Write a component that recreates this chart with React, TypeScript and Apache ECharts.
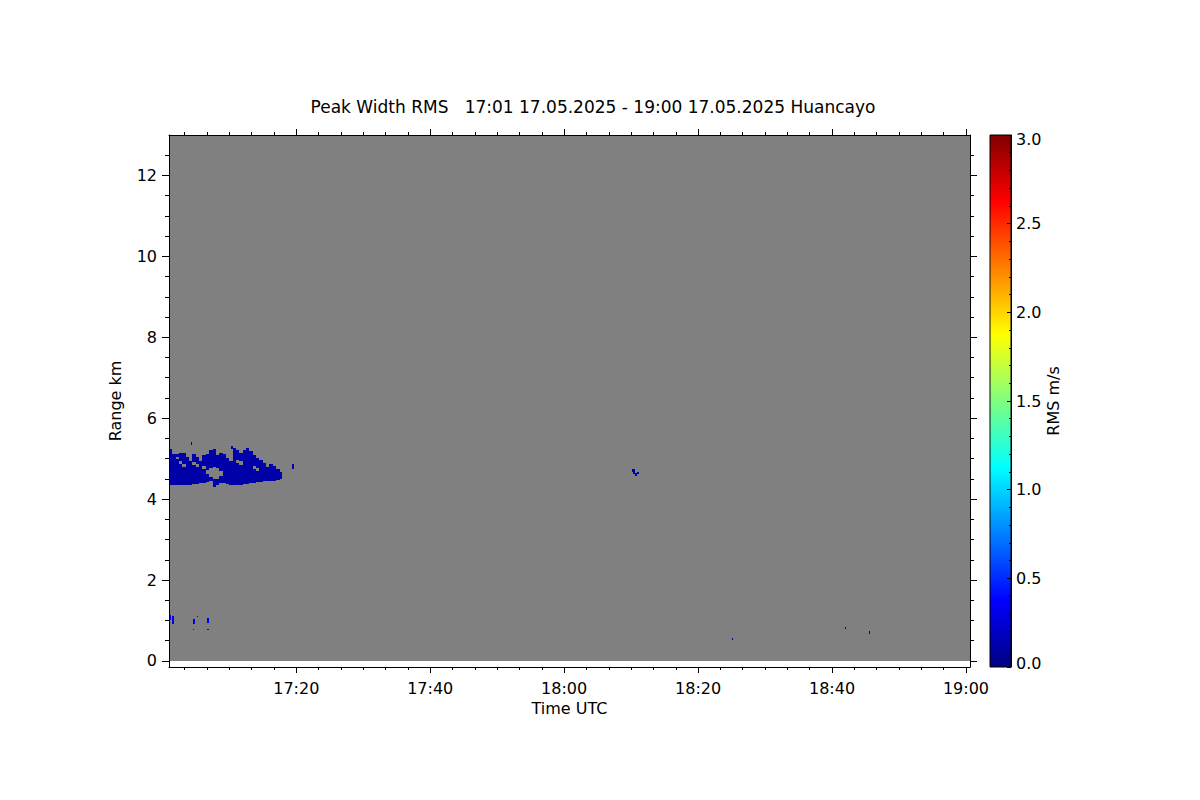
import React, { useEffect, useRef } from 'react';
import * as echarts from 'echarts';

const FONT = 'DejaVu Sans';

const titleText = 'Peak Width RMS   17:01 17.05.2025 - 19:00 17.05.2025 Huancayo';
const xAxisName = 'Time UTC';
const yAxisName = 'Range km';
const colorbarName = 'RMS m/s';

// time in minutes after 17:00 UTC
const scanStart = 1;
const scanEnd = 120.6;
const rangeBottom = 0;
const rangeTop = 13;
const rangeAxisMin = -0.15;

const timeTickValues = [20, 40, 60, 80, 100, 120];
const timeTickLabels = ['17:20', '17:40', '18:00', '18:20', '18:40', '19:00'];
const timeMinorTicks = [
  3.333, 6.667, 10, 13.333, 16.667,
  23.333, 26.667, 30, 33.333, 36.667,
  43.333, 46.667, 50, 53.333, 56.667,
  63.333, 66.667, 70, 73.333, 76.667,
  83.333, 86.667, 90, 93.333, 96.667,
  103.333, 106.667, 110, 113.333, 116.667,
];
const rangeTickValues = [0, 2, 4, 6, 8, 10, 12];
const rangeTickLabels = ['0', '2', '4', '6', '8', '10', '12'];
const rangeMinorTicks = [0.5, 1, 1.5, 2.5, 3, 3.5, 4.5, 5, 5.5, 6.5, 7, 7.5, 8.5, 9, 9.5, 10.5, 11, 11.5, 12.5];

const rmsMin = 0;
const rmsMax = 3;
const rmsTickValues = [0, 0.5, 1, 1.5, 2, 2.5, 3];
const rmsTickLabels = ['0.0', '0.5', '1.0', '1.5', '2.0', '2.5', '3.0'];
const jetColors = ['#000080', '#0000ff', '#0080ff', '#00ffff', '#80ff80', '#ffff00', '#ff8000', '#ff0000', '#800000'];

// cells: [timeStart, timeEnd, rangeLow km, rangeHigh km, RMS m/s]
const upperLayerCells: number[][] = [
  [1.0, 1.5, 4.35, 5.25, 0.12],
  [1.5, 2.0, 4.35, 5.12, 0.12],
  [2.0, 2.5, 4.35, 4.98, 0.12], [2.0, 2.5, 5.05, 5.12, 0.12],
  [2.5, 3.0, 4.36, 4.88, 0.12], [2.5, 3.0, 4.95, 5.15, 0.12],
  [3.0, 3.5, 4.36, 4.80, 0.12], [3.0, 3.5, 4.88, 5.15, 0.12],
  [3.5, 4.0, 4.36, 5.05, 0.12],
  [4.0, 4.5, 4.36, 4.95, 0.12], [4.3, 4.5, 5.33, 5.40, 0.12],
  [4.5, 5.0, 4.38, 4.85, 0.12], [4.5, 5.0, 4.92, 5.12, 0.12],
  [5.0, 5.5, 4.38, 4.80, 0.12], [5.0, 5.5, 4.88, 5.05, 0.12],
  [5.5, 6.0, 4.40, 4.95, 0.12],
  [6.0, 6.5, 4.40, 4.75, 0.12], [6.0, 6.5, 4.82, 5.08, 0.12],
  [6.5, 7.0, 4.42, 4.62, 0.12], [6.5, 7.0, 4.72, 5.12, 0.12],
  [7.0, 7.5, 4.45, 4.55, 0.12], [7.0, 7.5, 4.78, 5.22, 0.12],
  [7.5, 8.0, 4.30, 4.50, 0.12], [7.5, 8.0, 4.80, 5.25, 0.12],
  [8.0, 8.5, 4.36, 4.50, 0.12], [8.0, 8.5, 4.78, 5.10, 0.12],
  [8.5, 9.0, 4.40, 4.58, 0.12], [8.5, 9.0, 4.70, 5.15, 0.12],
  [9.0, 9.5, 4.40, 5.12, 0.12],
  [9.5, 10.0, 4.38, 5.02, 0.12],
  [10.0, 10.5, 4.36, 4.95, 0.12], [10.3, 10.5, 5.25, 5.32, 0.12],
  [10.5, 11.0, 4.36, 5.27, 0.12],
  [11.0, 11.5, 4.36, 4.90, 0.12], [11.0, 11.5, 4.97, 5.22, 0.12],
  [11.5, 12.0, 4.36, 4.85, 0.12], [11.5, 12.0, 4.93, 5.15, 0.12],
  [12.0, 12.5, 4.38, 5.22, 0.12],
  [12.5, 13.0, 4.38, 5.27, 0.12],
  [13.0, 13.5, 4.40, 5.20, 0.12],
  [13.5, 14.0, 4.40, 4.75, 0.12], [13.5, 14.0, 4.82, 5.10, 0.12],
  [14.0, 14.5, 4.42, 4.70, 0.12], [14.0, 14.5, 4.78, 5.02, 0.12],
  [14.5, 15.0, 4.42, 4.97, 0.12],
  [15.0, 15.5, 4.44, 4.90, 0.12],
  [15.5, 16.0, 4.44, 4.80, 0.12],
  [16.0, 16.5, 4.45, 4.88, 0.12],
  [16.5, 17.0, 4.45, 4.82, 0.12],
  [17.0, 17.5, 4.47, 4.75, 0.12],
  [17.5, 17.8, 4.50, 4.68, 0.12],
  [19.3, 19.6, 4.75, 4.87, 0.12],
];

const lowCloudCells: number[][] = [
  [1.0, 1.3, 1.02, 1.14, 0.3],
  [1.5, 1.8, 0.92, 1.10, 0.3],
  [4.6, 4.85, 0.92, 1.04, 0.3],
  [4.55, 4.75, 0.76, 0.79, 0.3],
  [5.2, 5.4, 1.08, 1.12, 0.3],
  [6.7, 6.95, 0.94, 1.06, 0.3],
  [6.7, 6.9, 0.76, 0.79, 0.3],
];

const midEchoCells: number[][] = [
  [70.1, 70.35, 4.68, 4.74, 0.12],
  [70.35, 70.6, 4.62, 4.74, 0.12],
  [70.6, 70.9, 4.58, 4.65, 0.12],
  [70.9, 71.25, 4.62, 4.68, 0.12],
];

const scatteredCells: number[][] = [
  [85.0, 85.15, 0.52, 0.56, 0.1],
  [101.9, 102.05, 0.80, 0.84, 0.1],
  [105.5, 105.65, 0.66, 0.75, 0.1],
];

const backgroundCells: number[][] = [[scanStart, scanEnd, rangeBottom, rangeTop]];

const allCells = [...upperLayerCells, ...lowCloudCells, ...midEchoCells, ...scatteredCells];

const textBase = { color: '#000', fontFamily: FONT, fontSize: 16 };

function rectFromApi(api: any, fill: string) {
  const a = api.coord([api.value(0), api.value(3)]);
  const b = api.coord([api.value(1), api.value(2)]);
  const x0 = Math.round(a[0]);
  const y0 = Math.round(a[1]);
  const x1 = Math.max(Math.round(b[0]), x0 + 1);
  const y1 = Math.max(Math.round(b[1]), y0 + 1);
  return { type: 'rect', shape: { x: x0, y: y0, width: x1 - x0, height: y1 - y0 }, style: { fill } };
}

function buildOption() {
  const line = { show: true, onZero: false, lineStyle: { color: '#000', width: 1 } };
  const noLine = { show: false, onZero: false };
  const tickStyle = { color: '#000', width: 1 };

  const timeLabel = (v: number) => {
    const i = timeTickValues.findIndex((t) => Math.abs(t - v) < 1e-6);
    return i >= 0 ? timeTickLabels[i] : '';
  };
  const rangeLabel = (v: number) => {
    const i = rangeTickValues.findIndex((t) => Math.abs(t - v) < 1e-6);
    return i >= 0 ? rangeTickLabels[i] : '';
  };
  const rmsLabel = (v: number) => {
    const i = rmsTickValues.findIndex((t) => Math.abs(t - v) < 1e-6);
    if (i < 0) return '';
    if (i === 0) return '{lo|' + rmsTickLabels[i] + '}';
    if (i === rmsTickValues.length - 1) return '{hi|' + rmsTickLabels[i] + '}';
    return rmsTickLabels[i];
  };

  const xBase = { type: 'value', gridIndex: 0, min: scanStart, max: scanEnd, z: 10, splitLine: { show: false } };
  const yBase = { type: 'value', gridIndex: 0, min: rangeAxisMin, max: rangeTop, z: 10, splitLine: { show: false } };

  const gradStops = jetColors.map((c, i) => ({ offset: i / (jetColors.length - 1), color: c }));

  return {
    animation: false,
    backgroundColor: '#fff',
    graphic: [
      {
        type: 'text',
        x: 593,
        y: 107,
        style: { text: titleText, fill: '#000', fontFamily: FONT, fontSize: 17, align: 'center', verticalAlign: 'middle' },
      },
    ],
    grid: [
      { left: 169, top: 135, width: 801, height: 532, show: false },
      {
        left: 990, top: 135, width: 21, height: 532, show: true, borderColor: '#000', borderWidth: 1,
        backgroundColor: { type: 'linear', x: 0, y: 1, x2: 0, y2: 0, colorStops: gradStops },
      },
    ],
    xAxis: [
      {
        ...xBase, position: 'bottom', axisLine: line,
        axisTick: { show: true, customValues: timeTickValues, length: 6, inside: false, lineStyle: tickStyle },
        axisLabel: { show: true, customValues: timeTickValues, formatter: timeLabel, margin: 13, ...textBase },
        name: xAxisName, nameLocation: 'middle', nameGap: 31, nameTextStyle: { ...textBase },
      },
      {
        ...xBase, position: 'bottom', axisLine: noLine,
        axisTick: { show: true, customValues: timeMinorTicks, length: 3, inside: false, lineStyle: tickStyle },
        axisLabel: { show: false, customValues: timeMinorTicks },
      },
      {
        ...xBase, position: 'top', axisLine: line,
        axisTick: { show: true, customValues: timeTickValues, length: 6, inside: false, lineStyle: tickStyle },
        axisLabel: { show: false, customValues: timeTickValues },
      },
      {
        ...xBase, position: 'top', axisLine: noLine,
        axisTick: { show: true, customValues: timeMinorTicks, length: 3, inside: false, lineStyle: tickStyle },
        axisLabel: { show: false, customValues: timeMinorTicks },
      },
      { type: 'value', gridIndex: 1, min: 0, max: 1, show: false },
    ],
    yAxis: [
      {
        ...yBase, position: 'left', axisLine: line,
        axisTick: { show: true, customValues: rangeTickValues, length: 7, inside: false, lineStyle: tickStyle },
        axisLabel: { show: true, customValues: rangeTickValues, formatter: rangeLabel, margin: 12, ...textBase },
        name: yAxisName, nameLocation: 'middle', nameGap: 46, nameRotate: 90, nameTextStyle: { ...textBase },
      },
      {
        ...yBase, position: 'left', axisLine: noLine,
        axisTick: { show: true, customValues: rangeMinorTicks, length: 4, inside: false, lineStyle: tickStyle },
        axisLabel: { show: false, customValues: rangeMinorTicks },
      },
      {
        ...yBase, position: 'right', axisLine: line,
        axisTick: { show: true, customValues: rangeTickValues, length: 7, inside: false, lineStyle: tickStyle },
        axisLabel: { show: false, customValues: rangeTickValues },
      },
      {
        ...yBase, position: 'right', axisLine: noLine,
        axisTick: { show: true, customValues: rangeMinorTicks, length: 4, inside: false, lineStyle: tickStyle },
        axisLabel: { show: false, customValues: rangeMinorTicks },
      },
      {
        type: 'value', gridIndex: 1, position: 'right', min: rmsMin, max: rmsMax, interval: 0.5, z: 10,
        splitLine: { show: false },
        axisLine: line,
        axisTick: { show: true, inside: true, length: 4, lineStyle: tickStyle },
        minorTick: { show: true, splitNumber: 5, length: 2, lineStyle: tickStyle },
        axisLabel: {
          show: true, formatter: rmsLabel, margin: 5, ...textBase,
          rich: {
            hi: { ...textBase, padding: [8, 0, 0, 0] },
            lo: { ...textBase, padding: [0, 0, 8, 0] },
          },
        },
        name: colorbarName, nameLocation: 'middle', nameGap: 32, nameRotate: 90, nameTextStyle: { ...textBase },
      },
    ],
    visualMap: {
      type: 'continuous', show: false, min: rmsMin, max: rmsMax, dimension: 4, seriesIndex: 1,
      inRange: { color: jetColors },
    },
    series: [
      {
        type: 'custom', xAxisIndex: 0, yAxisIndex: 0, z: 1, clip: true, silent: true,
        data: backgroundCells,
        encode: { x: [0, 1], y: [2, 3] },
        renderItem: (_p: any, api: any) => rectFromApi(api, '#808080'),
      },
      {
        type: 'custom', xAxisIndex: 0, yAxisIndex: 0, z: 3, clip: true, silent: true,
        data: allCells,
        encode: { x: [0, 1], y: [2, 3] },
        renderItem: (_p: any, api: any) => rectFromApi(api, api.visual('color')),
      },
    ],
  };
}

export default function App() {
  const ref = useRef<HTMLDivElement>(null);
  useEffect(() => {
    if (!ref.current) return;
    const chart = echarts.init(ref.current, null, { renderer: 'svg' });
    chart.setOption(buildOption() as any);
    return () => chart.dispose();
  }, []);
  return (
    <div
      ref={ref}
      style={{ position: 'fixed', left: 0, top: 0, width: 1200, height: 800, background: '#fff' }}
    />
  );
}
